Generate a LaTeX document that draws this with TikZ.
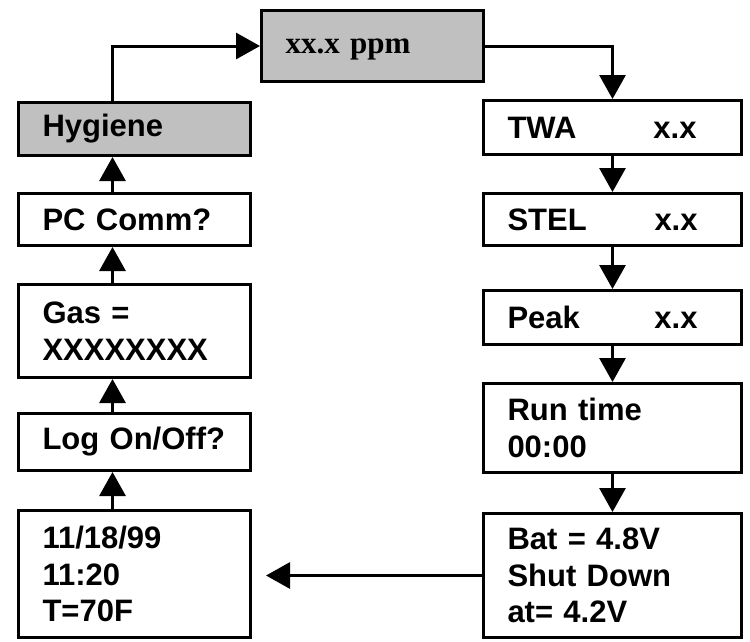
\documentclass[tikz,border=0pt]{standalone}
\usepackage{fontspec}
\setmainfont{Liberation Sans}
\newfontfamily\ppmfont{Liberation Serif}
\usepackage{xcolor}
\usetikzlibrary{arrows.meta, positioning}

\definecolor{screengray}{RGB}{192,192,192}

\begin{document}
\begin{tikzpicture}[
        >={Triangle[length=24pt, width=26pt]},
        screen/.style={draw, rectangle, line width=3pt, inner xsep=24pt,
            inner ysep=0pt, align=left,
            font=\fontsize{31}{36.5}\selectfont\bfseries},
        leftscreen/.style={screen, minimum width=232pt, text width=184pt},
        rightscreen/.style={screen, minimum width=258pt, text width=210pt},
        line/.style={draw, line width=3pt, ->},
    ]

    \useasboundingbox (0,0) rectangle (750pt,-641pt);

    % 1. Reading (top)
    \node[screen, fill=screengray, minimum width=222pt, minimum height=71pt,
          text width=174pt, text depth=0pt,
          font=\fontsize{31}{36}\selectfont\ppmfont\bfseries]
        at (372.5pt,-46pt) (ppm) {xx.x ppm};

    % 2. Right column (down)
    \node[rightscreen, minimum height=54pt, below right=16pt and -3pt of ppm] (twa)
        {\makebox[146pt][l]{TWA}x.x};
    \node[rightscreen, minimum height=52pt, below=36pt of twa] (stel)
        {\makebox[147pt][l]{STEL}x.x};
    \node[rightscreen, minimum height=54pt, below=42pt of stel] (peak)
        {\makebox[147pt][l]{Peak}x.x};
    \node[rightscreen, minimum height=89pt, below=36pt of peak] (runtime)
        {Run time\\00:00};
    \node[rightscreen, minimum height=124pt, below=38pt of runtime] (battery)
        {Bat = 4.8V\\Shut Down\\at= 4.2V};

    % 3. Left column (up)
    \node[leftscreen, fill=screengray, minimum height=53pt,
          below left=18pt and 8pt of ppm] (hygiene) {Hygiene};
    \node[leftscreen, minimum height=52pt, below=35pt of hygiene] (pccomm)
        {PC Comm?};
    \node[leftscreen, minimum height=93pt, below=36pt of pccomm] (gas)
        {Gas =\\XXXXXXXX};
    \node[leftscreen, minimum height=57pt, below=33pt of gas] (logging)
        {Log On/Off?};
    \node[leftscreen, minimum height=127pt, below=37pt of logging] (date)
        {11/18/99\\11:20\\T=70F};

    % --- Arrows ---
    \path[line] ([xshift=-22pt]hygiene.north) |- (ppm.west);
    \path[line] (ppm.east) -| (twa.north);
    \path[line] (twa.south) -- (stel.north);
    \path[line] (stel.south) -- (peak.north);
    \path[line] (peak.south) -- (runtime.north);
    \path[line] (runtime.south) -- (battery.north);
    \path[line, shorten >=14pt] (battery.west) -- (battery.west -| date.east);
    \path[line] ([xshift=-22pt]date.north) -- ([xshift=-22pt]logging.south);
    \path[line] ([xshift=-22pt]logging.north) -- ([xshift=-22pt]gas.south);
    \path[line] ([xshift=-22pt]gas.north) -- ([xshift=-22pt]pccomm.south);
    \path[line] ([xshift=-22pt]pccomm.north) -- ([xshift=-22pt]hygiene.south);

\end{tikzpicture}
\end{document}
